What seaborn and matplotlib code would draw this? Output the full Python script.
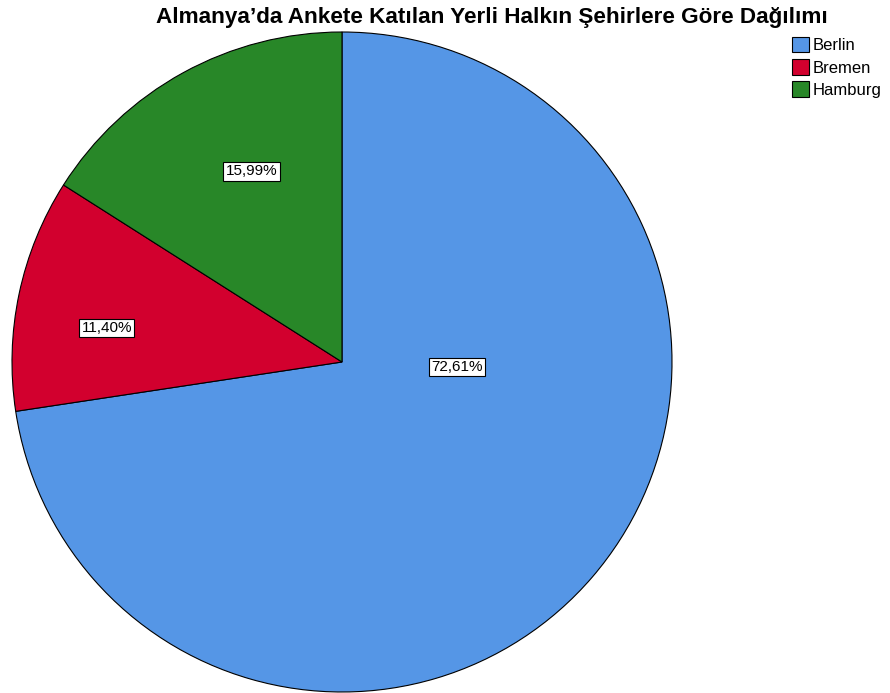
import numpy as np
import pandas as pd
import matplotlib
matplotlib.use("Agg")
import matplotlib.pyplot as plt
import seaborn as sns

# veriler
sehirler = ["Berlin", "Bremen", "Hamburg"]
yuzdeler = [72.61, 11.40, 15.99]
renkler = ["#5596E6", "#D2002E", "#288728"]
baslik = "Almanya\u2019da Ankete Katılan Yerli Halkın Şehirlere Göre Dağılımı"

sns.set_theme(style="white")
plt.rcParams['font.family'] = ['Liberation Sans', 'DejaVu Sans']
plt.rcParams['text.color'] = 'black'

df = pd.DataFrame({'Sehir': sehirler, 'Yuzde': yuzdeler})

fig = plt.figure(figsize=(8.9, 6.93), dpi=100)
ax = fig.add_axes([12/890, 1/693, 660/890, 660/693])

wedges, texts, autotexts = ax.pie(
    df['Yuzde'], colors=renkler, startangle=90, counterclock=False,
    autopct=lambda p: f"{p:.2f}%".replace('.', ','),
    wedgeprops=dict(edgecolor='black', linewidth=0.8),
    textprops=dict(fontsize=11, color='black'))
ax.set_xlim(-1, 1)
ax.set_ylim(-1, 1)
ax.set_aspect('equal')

# etiket konumlari (aci, uzaklik) - SPSS tarzi
etiket_yer = [(-2.5, 0.35), (171.8, 0.72), (115.4, 0.64)]
for t, (a, r) in zip(autotexts, etiket_yer):
    t.set_position((r*np.cos(np.radians(a)), r*np.sin(np.radians(a))))
    t.set_bbox(dict(boxstyle='square,pad=0.15', facecolor='white', edgecolor='black', linewidth=0.8))

fig.text(492/890, 1-17/693, baslik, ha='center', va='center', fontsize=16.2,
         fontweight='bold', color='black')

leg = fig.legend(wedges, sehirler, loc='upper left', bbox_to_anchor=(792/890, 1-37/693),
                 frameon=False, fontsize=12, handlelength=1.0, handleheight=1.05,
                 handletextpad=0.25, labelspacing=0.35, borderpad=0, borderaxespad=0)
for t in leg.get_texts():
    t.set_color('black')

plt.savefig("out.png", dpi=100)
